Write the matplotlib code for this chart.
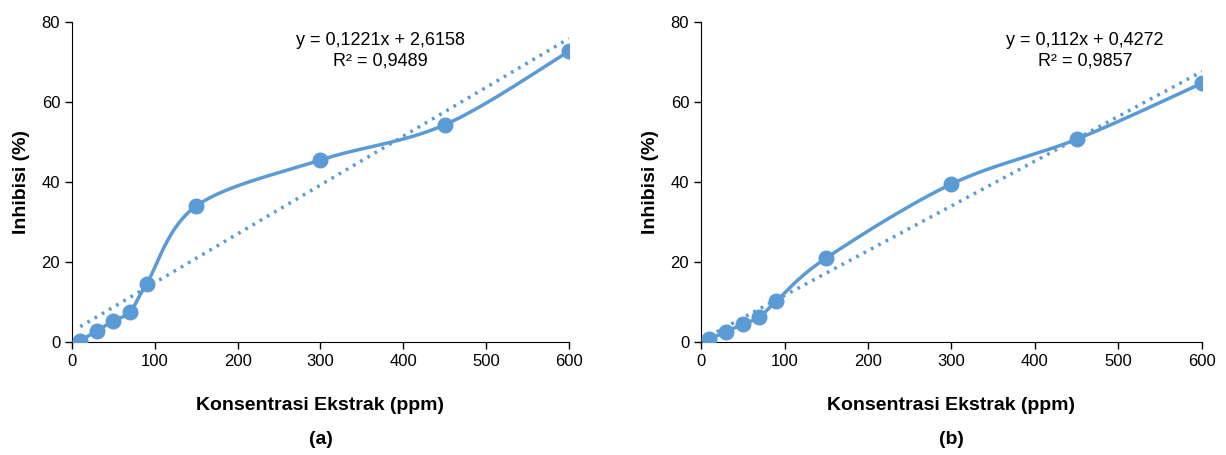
import numpy as np
import matplotlib.pyplot as plt
from matplotlib import font_manager as fm

# Arial Narrow-like font if available
nama_font = {f.name for f in fm.fontManager.ttflist}
if "Liberation Sans Narrow" in nama_font:
    plt.rcParams["font.family"] = ["Liberation Sans Narrow", "DejaVu Sans"]
    narrow = True
else:
    plt.rcParams["font.family"] = ["Liberation Sans", "DejaVu Sans"]
    narrow = False

# Data
konsentrasi = [10, 30, 50, 70, 90, 150, 300, 450, 600]
inhibisi_a = [0.3, 2.8, 5.3, 7.5, 14.5, 34.0, 45.5, 54.3, 72.7]
inhibisi_b = [0.8, 2.5, 4.5, 6.2, 10.2, 21.0, 39.5, 50.7, 64.7]

trend_a = (0.1221, 2.6158)
trend_b = (0.112, 0.4272)
label_a = "y = 0,1221x + 2,6158\nR² = 0,9489"
label_b = "y = 0,112x + 0,4272\nR² = 0,9857"

WARNA = "#5B9BD5"

fs_tick = 13 if narrow else 12
fs_label = 15 if narrow else 14
fs_eq = 14 if narrow else 13


def smooth_curve(x, y, xmax=600, ymax=80, n=40):
    # Excel-like smoothed line (Catmull-Rom / Bezier in normalized space)
    px = np.array(x, float) / xmax
    py = np.array(y, float) / ymax * 0.64
    P = np.column_stack([px, py])
    out = []
    for i in range(len(P) - 1):
        p0 = P[i - 1] if i > 0 else P[i]
        p1, p2 = P[i], P[i + 1]
        p3 = P[i + 2] if i + 2 < len(P) else P[i + 1]
        c1 = p1 + (p2 - p0) / 6
        c2 = p2 - (p3 - p1) / 6
        t = np.linspace(0, 1, n)[:, None]
        seg = ((1 - t) ** 3) * p1 + 3 * ((1 - t) ** 2) * t * c1 + 3 * (1 - t) * t ** 2 * c2 + t ** 3 * p2
        out.append(seg)
    out = np.vstack(out)
    return out[:, 0] * xmax, out[:, 1] / 0.64 * ymax


fig = plt.figure(figsize=(12.26, 4.55), dpi=100)
ax1 = fig.add_axes([0.0587, 0.2484, 0.4054, 0.7032])
ax2 = fig.add_axes([0.5718, 0.2484, 0.4086, 0.7032])

for ax, y, trend, lab, huruf, xteks in [
    (ax1, inhibisi_a, trend_a, label_a, "(a)", 372),
    (ax2, inhibisi_b, trend_b, label_b, "(b)", 460),
]:
    xs, ys = smooth_curve(konsentrasi, y)
    ax.plot(xs, ys, color=WARNA, lw=2.5, zorder=2)
    xt = np.array([konsentrasi[0], konsentrasi[-1]], float)
    ax.plot(xt, trend[0] * xt + trend[1], color=WARNA, lw=2.5, ls=(0, (0.8, 1.6)), zorder=1)
    ax.plot(konsentrasi, y, "o", color=WARNA, ms=10.5, zorder=3)

    ax.set_xlim(0, 600)
    ax.set_ylim(0, 80)
    ax.set_xticks(range(0, 601, 100))
    ax.set_yticks(range(0, 81, 20))
    ax.spines["top"].set_visible(False)
    ax.spines["right"].set_visible(False)
    ax.tick_params(direction="out", length=5, labelsize=fs_tick, width=1, colors="black")
    ax.set_xlabel("Konsentrasi Ekstrak (ppm)", fontsize=fs_label, fontweight="bold", labelpad=20)
    ax.set_ylabel("Inhibisi (%)", fontsize=fs_label, fontweight="bold", labelpad=8)
    ax.text(xteks, 72.8, lab, ha="center", va="center", fontsize=fs_eq, linespacing=1.25)
    ax.text(0.5, -0.305, huruf, transform=ax.transAxes, ha="center", va="center",
            fontsize=fs_label, fontweight="bold")

fig.savefig("out.png", dpi=100)
